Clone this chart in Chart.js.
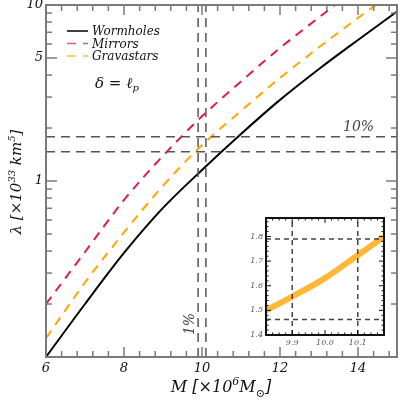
<!DOCTYPE html>
<html>
<head>
<meta charset="utf-8">
<script src="https://cdn.jsdelivr.net/npm/chart.js@4.4.0/dist/chart.umd.min.js"></script>
<style>
  body { margin: 0; background: #fff; }
  #wrap { position: relative; width: 409px; height: 404px; }
  #mainChart { position: absolute; left: 0; top: 0; }
  #insetChart { position: absolute; left: 236px; top: 212px; }
</style>
</head>
<body>
<div id="wrap">
  <canvas id="mainChart" width="409" height="404"></canvas>
  <canvas id="insetChart" width="152" height="142"></canvas>
</div>
<script>
// main panel: lambda vs mass, log y
const mass = [6, 7, 8, 9, 10, 11, 12, 13, 14, 15];
const wormholes = [0.100, 0.200, 0.390, 0.703, 1.155, 1.85, 2.89, 4.33, 6.33, 9.18];
const mirrors = [0.200, 0.395, 0.78, 1.39, 2.33, 3.68, 5.70, 8.50, 12.6, 18.3];
const gravastars = [0.128, 0.265, 0.51, 0.94, 1.60, 2.50, 3.85, 5.75, 8.45, 12.2];
const massTicks = [6, 8, 10, 12, 14];
const lambdaTicks = [1, 5, 10];
const refMass = [9.9, 10.1];      // the 1% band
const refLambda = [1.468, 1.785]; // the 10% band

// inset: gravastars zoom around M = 10
const insetMass = [9.82, 9.9, 10.0, 10.1, 10.18];
const insetGravastars = [1.50, 1.556, 1.631, 1.724, 1.799];
const insetXTicks = [9.9, 10.0, 10.1];
const insetYTicks = [1.4, 1.5, 1.6, 1.7, 1.8];
const insetRefMass = [9.9, 10.1];
const insetRefLambda = [1.463, 1.79];

const SERIF = '"DejaVu Serif", "Liberation Serif", serif';
const AXIS_GREY = '#7a7a7a';
const REF_GREY = '#555';

function pairs(xs, ys) {
    return xs.map((x, i) => ({ x: x, y: ys[i] }));
}

function vLine(x, y0, y1) { return [{ x: x, y: y0 }, { x: x, y: y1 }]; }
function hLine(y, x0, x1) { return [{ x: x0, y: y }, { x: x1, y: y }]; }

// draw a string made of runs: [text, 'sup'|'sub'|null]
function drawRuns(ctx, runs, x, y, size, align) {
    const small = Math.round(size * 0.68);
    let total = 0;
    runs.forEach(r => {
        ctx.font = 'italic ' + (r[1] ? small : size) + 'px ' + SERIF;
        total += ctx.measureText(r[0]).width;
    });
    let cx = align === 'center' ? x - total / 2 : x;
    runs.forEach(r => {
        ctx.font = 'italic ' + (r[1] ? small : size) + 'px ' + SERIF;
        let dy = 0;
        if (r[1] === 'sup') dy = -size * 0.42;
        if (r[1] === 'sub') dy = size * 0.3;
        ctx.fillText(r[0], cx, y + dy);
        cx += ctx.measureText(r[0]).width;
    });
}

function tickLine(ctx, x0, y0, x1, y1) {
    ctx.beginPath();
    ctx.moveTo(x0, y0);
    ctx.lineTo(x1, y1);
    ctx.stroke();
}

const mainDecor = {
    id: 'mainDecor',
    afterDraw(chart) {
        const ctx = chart.ctx;
        const a = chart.chartArea;
        const xs = chart.scales.x, ys = chart.scales.y;
        ctx.save();

        // frame
        ctx.strokeStyle = AXIS_GREY;
        ctx.lineWidth = 2;
        ctx.strokeRect(a.left, a.top, a.right - a.left, a.bottom - a.top);

        // inward ticks
        ctx.lineWidth = 1.5;
        for (let v = 6; v <= 15.001; v += 0.4) {
            const major = massTicks.some(t => Math.abs(t - v) < 1e-6);
            const len = major ? 10 : 6;
            const px = xs.getPixelForValue(v);
            tickLine(ctx, px, a.bottom, px, a.bottom - len);
            tickLine(ctx, px, a.top, px, a.top + len);
        }
        [0.1, 1].forEach(d => {
            for (let k = 1; k <= 9; k++) {
                const v = d * k;
                const major = lambdaTicks.includes(Math.round(v * 10) / 10);
                const len = major ? 11 : 6;
                const py = ys.getPixelForValue(v);
                tickLine(ctx, a.left, py, a.left + len, py);
                tickLine(ctx, a.right, py, a.right - len, py);
            }
        });

        // legend
        ctx.textBaseline = 'middle';
        ctx.textAlign = 'left';
        const legendSets = chart.data.datasets.filter(d => d.inLegend);
        legendSets.forEach((d, i) => {
            const y = 31 + i * 12.5;
            ctx.strokeStyle = d.borderColor;
            ctx.globalAlpha = i === 0 ? 1 : 0.75;
            ctx.lineWidth = 1.5;
            ctx.setLineDash(d.borderDash || []);
            tickLine(ctx, 67, y, 88, y);
            ctx.setLineDash([]);
            ctx.globalAlpha = 1;
            ctx.fillStyle = '#111';
            ctx.font = 'italic 12px ' + SERIF;
            ctx.fillText(d.label, 92, y + 1);
        });

        // annotations
        ctx.fillStyle = '#111';
        drawRuns(ctx, [['δ = ℓ', null], ['p', 'sub']], 95, 84, 15, 'left');
        ctx.fillStyle = '#444';
        ctx.font = 'italic 14px ' + SERIF;
        ctx.fillText('10%', 343, 127);
        ctx.save();
        ctx.translate(190, 324);
        ctx.rotate(-Math.PI / 2);
        ctx.textAlign = 'center';
        ctx.fillText('1%', 0, 0);
        ctx.restore();

        // axis titles
        ctx.fillStyle = '#111';
        ctx.textBaseline = 'alphabetic';
        drawRuns(ctx, [['M [×10', null], ['6', 'sup'], ['M', null], ['⊙', 'sub'], [']', null]], 221, 392, 16, 'center');
        ctx.save();
        ctx.translate(21, 182);
        ctx.rotate(-Math.PI / 2);
        drawRuns(ctx, [['λ [×10', null], ['33', 'sup'], [' km', null], ['5', 'sup'], [']', null]], 0, 0, 15, 'center');
        ctx.restore();

        ctx.restore();
    }
};

const refStyle = {
    borderColor: REF_GREY,
    borderWidth: 1.5,
    borderDash: [9, 6],
    pointRadius: 0,
    fill: false
};

new Chart(document.getElementById('mainChart'), {
    type: 'line',
    data: {
        datasets: [
            Object.assign({ data: vLine(refMass[0], 0.1, 10) }, refStyle),
            Object.assign({ data: vLine(refMass[1], 0.1, 10) }, refStyle),
            Object.assign({ data: hLine(refLambda[0], 6, 15) }, refStyle),
            Object.assign({ data: hLine(refLambda[1], 6, 15) }, refStyle),
            {
                label: 'Wormholes', inLegend: true,
                data: pairs(mass, wormholes),
                borderColor: '#000', borderWidth: 2,
                pointRadius: 0, cubicInterpolationMode: 'monotone'
            },
            {
                label: 'Mirrors', inLegend: true,
                data: pairs(mass, mirrors),
                borderColor: '#dc1e4b', borderWidth: 2, borderDash: [9, 7],
                pointRadius: 0, cubicInterpolationMode: 'monotone'
            },
            {
                label: 'Gravastars', inLegend: true,
                data: pairs(mass, gravastars),
                borderColor: '#ffa500', borderWidth: 2, borderDash: [9, 7],
                pointRadius: 0, cubicInterpolationMode: 'monotone'
            }
        ]
    },
    options: {
        responsive: false,
        animation: false,
        devicePixelRatio: 1,
        layout: { padding: { top: 5, right: 12, left: 0, bottom: 0 } },
        plugins: { legend: { display: false }, tooltip: { enabled: false } },
        scales: {
            x: {
                type: 'linear', min: 6, max: 15,
                grid: { display: false, drawTicks: false },
                border: { display: false },
                afterBuildTicks: s => { s.ticks = massTicks.map(v => ({ value: v })); },
                afterFit: s => { s.height = 47; s.paddingLeft = 0; s.paddingRight = 0; },
                ticks: {
                    padding: 4, color: '#111', maxRotation: 0,
                    font: { family: SERIF, style: 'italic', size: 13 }
                }
            },
            y: {
                type: 'logarithmic', min: 0.1, max: 10,
                grid: { display: false, drawTicks: false },
                border: { display: false },
                afterBuildTicks: s => { s.ticks = lambdaTicks.map(v => ({ value: v })); },
                afterFit: s => { s.width = 46; s.paddingTop = 0; s.paddingBottom = 0; },
                ticks: {
                    padding: 3, color: '#111',
                    callback: v => String(v),
                    font: { family: SERIF, style: 'italic', size: 13 }
                }
            }
        }
    },
    plugins: [mainDecor]
});

const insetDecor = {
    id: 'insetDecor',
    afterDraw(chart) {
        const ctx = chart.ctx;
        const a = chart.chartArea;
        const xs = chart.scales.x, ys = chart.scales.y;
        ctx.save();
        ctx.strokeStyle = '#111';
        ctx.lineWidth = 1;
        for (let v = 9.82; v <= 10.18; v += 0.02) {
            const major = insetXTicks.some(t => Math.abs(t - v) < 1e-6);
            const len = major ? 5 : 2.5;
            const px = xs.getPixelForValue(v);
            tickLine(ctx, px, a.bottom, px, a.bottom - len);
            tickLine(ctx, px, a.top, px, a.top + len);
        }
        for (let v = 1.4; v <= 1.875; v += 0.02) {
            const major = insetYTicks.some(t => Math.abs(t - v) < 1e-6);
            const len = major ? 5 : 2.5;
            const py = ys.getPixelForValue(v);
            tickLine(ctx, a.left, py, a.left + len, py);
            tickLine(ctx, a.right, py, a.right - len, py);
        }
        ctx.lineWidth = 2;
        ctx.strokeRect(a.left, a.top, a.right - a.left, a.bottom - a.top);
        ctx.restore();
    }
};

const insetRef = {
    borderColor: '#444',
    borderWidth: 1.5,
    borderDash: [5, 4],
    pointRadius: 0,
    fill: false
};

new Chart(document.getElementById('insetChart'), {
    type: 'line',
    data: {
        datasets: [
            Object.assign({ data: vLine(insetRefMass[0], 1.4, 1.875) }, insetRef),
            Object.assign({ data: vLine(insetRefMass[1], 1.4, 1.875) }, insetRef),
            Object.assign({ data: hLine(insetRefLambda[0], 9.82, 10.18) }, insetRef),
            Object.assign({ data: hLine(insetRefLambda[1], 9.82, 10.18) }, insetRef),
            {
                label: 'Gravastars',
                data: pairs(insetMass, insetGravastars),
                borderColor: 'rgba(255, 170, 20, 0.85)', borderWidth: 6,
                pointRadius: 0, cubicInterpolationMode: 'monotone'
            }
        ]
    },
    options: {
        responsive: false,
        animation: false,
        devicePixelRatio: 1,
        layout: { padding: { top: 6, right: 4, left: 0, bottom: 0 } },
        plugins: { legend: { display: false }, tooltip: { enabled: false } },
        scales: {
            x: {
                type: 'linear', min: 9.82, max: 10.18,
                grid: { display: false, drawTicks: false },
                border: { display: false },
                afterBuildTicks: s => { s.ticks = insetXTicks.map(v => ({ value: v })); },
                afterFit: s => { s.height = 19; s.paddingLeft = 0; s.paddingRight = 0; },
                ticks: {
                    padding: 3, color: '#555', maxRotation: 0,
                    callback: v => v.toFixed(1),
                    font: { family: SERIF, style: 'italic', size: 8 }
                }
            },
            y: {
                type: 'linear', min: 1.4, max: 1.875,
                grid: { display: false, drawTicks: false },
                border: { display: false },
                afterBuildTicks: s => { s.ticks = insetYTicks.map(v => ({ value: v })); },
                afterFit: s => { s.width = 30; s.paddingTop = 0; s.paddingBottom = 0; },
                ticks: {
                    padding: 3, color: '#555',
                    callback: v => v.toFixed(1),
                    font: { family: SERIF, style: 'italic', size: 8 }
                }
            }
        }
    },
    plugins: [insetDecor]
});
</script>
</body>
</html>
